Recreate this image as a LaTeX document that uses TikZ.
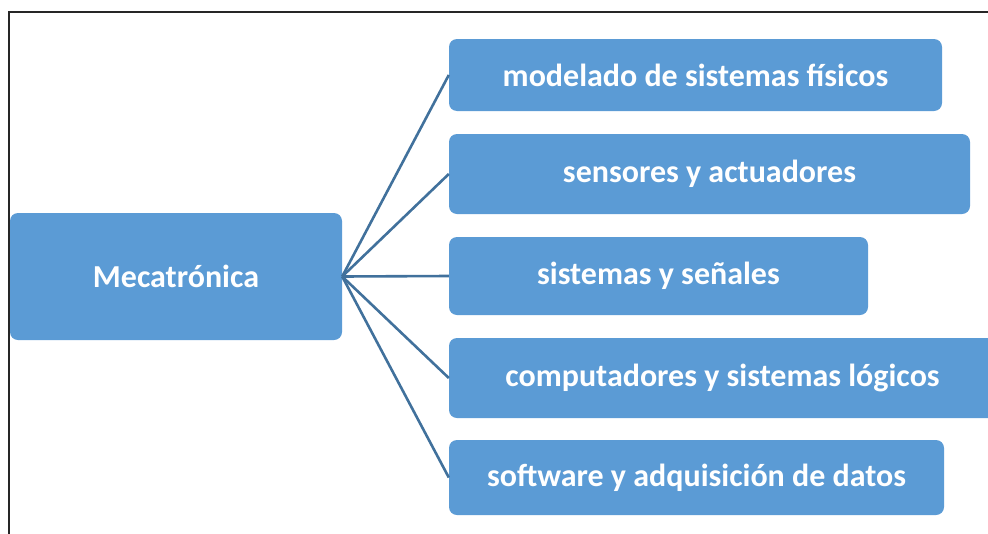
\documentclass[tikz,border=0pt]{standalone}
\usepackage{fontspec}
\setmainfont{Carlito}
\definecolor{boxblue}{HTML}{5B9BD5}
\definecolor{lineblue}{HTML}{41719C}
\begin{document}
\begin{tikzpicture}[x=1pt,y=-1pt,
  bx/.style={draw=none,fill=boxblue,rounded corners=8pt,inner sep=0pt,
    text=white,font=\fontsize{32}{36}\selectfont\bfseries},
  conn/.style={draw=lineblue,line width=2.6pt}]
\useasboundingbox (0,0) rectangle (988,533);
\clip (0,0) rectangle (988,533);
\draw[line width=2pt,black!85] (9,540) -- (9,11.5) -- (1000,11.5);
\node[bx,minimum width=332pt,minimum height=127pt] (m) at (176,276.5) {Mecatrónica};
\node[bx,minimum width=493pt,minimum height=72pt] (b1) at (695.5,75) {modelado de sistemas físicos};
\node[bx,minimum width=521pt,minimum height=80pt] (b2) at (709.5,174) {sensores y actuadores};
\node[bx,minimum width=419pt,minimum height=78pt] (b3) at (658.5,276) {sistemas y señales};
\node[bx,minimum width=547pt,minimum height=80pt] (b4) at (722.5,378) {computadores y sistemas lógicos};
\node[bx,minimum width=495pt,minimum height=75pt] (b5) at (696.5,477.5) {software y adquisición de datos};
\foreach \b in {b1,b2,b3,b4,b5} \draw[conn] (m.east) -- (\b.west);
\end{tikzpicture}
\end{document}
